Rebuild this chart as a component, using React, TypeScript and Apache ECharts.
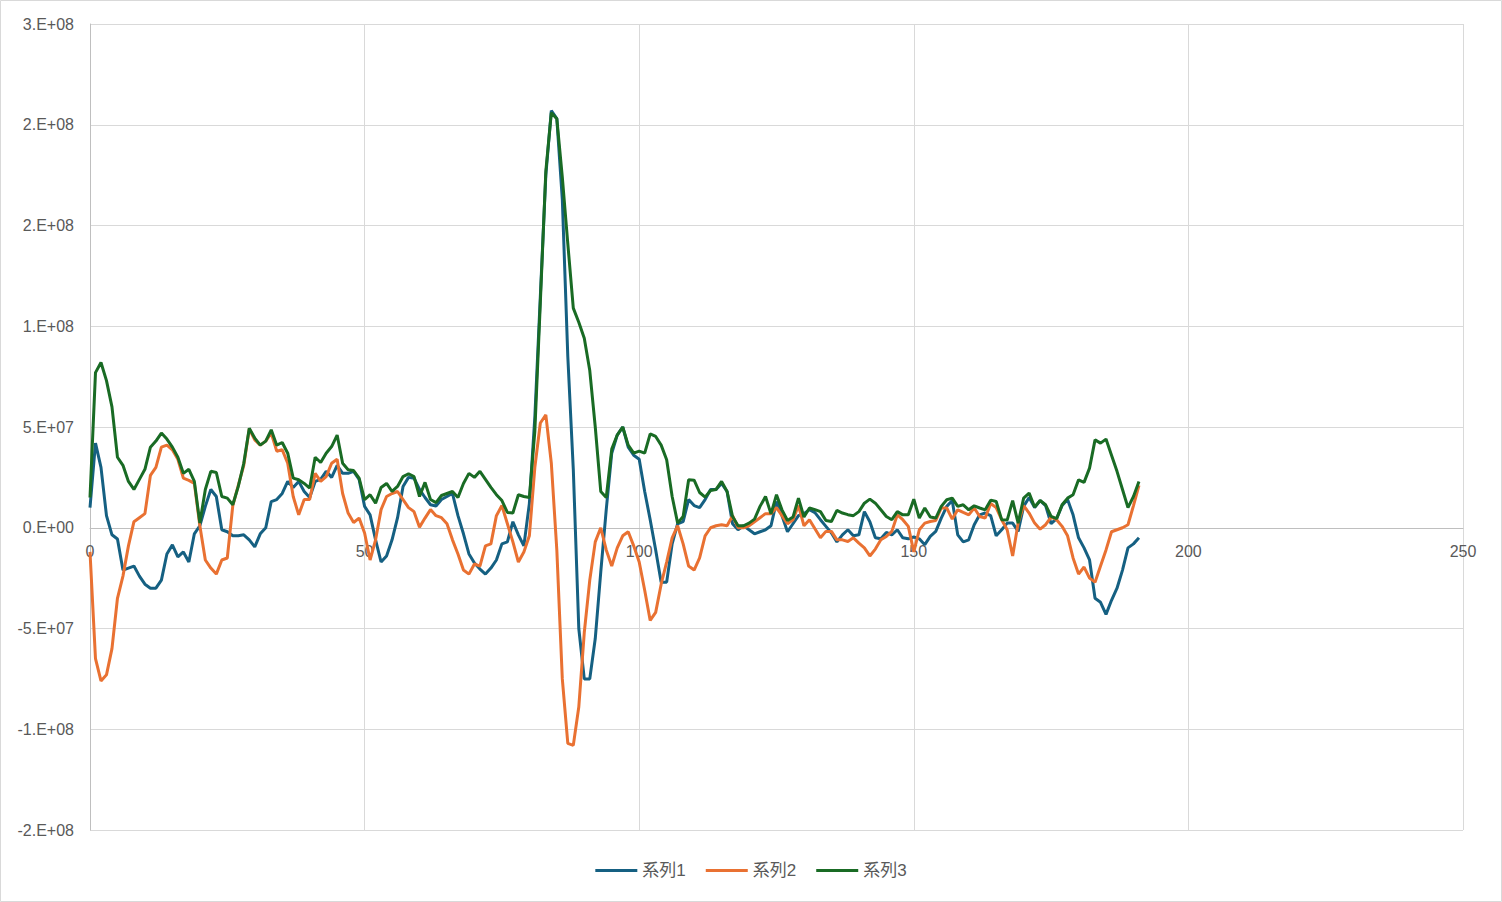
import React, { useEffect, useRef } from "react";
import * as echarts from "echarts";

// values in units of 1e6
const SCALE = 1e6;

const seriesNames = ["系列1", "系列2", "系列3"];

const series1 = [
  10, 42, 30, 6, -3.5, -5.6, -21, -20, -19, -24,
  -28, -30, -30, -26, -13, -8.5, -14.5, -12, -17, -3,
  1, 10.6, 19, 15.5, -1, -2, -4, -4, -3.5, -6,
  -9.5, -3, 0, 13, 14, 17, 23, 20, 23, 18,
  15, 23, 24, 28, 25, 31, 27, 27, 28, 24,
  10.6, 6.4, -6, -17, -14, -6, 5, 20.5, 25, 24.6,
  19, 15, 11.4, 10.8, 14, 15.5, 17, 6, -3, -13,
  -17.5, -20.5, -23, -20, -16, -8, -7, 3, -3.5, -9,
  12, 55, 115, 175, 207, 203, 163, 85, 29, -50,
  -75, -75, -55, -22, 9, 37, 46, 50, 40, 36,
  34, 18, 4, -11, -27, -27, -8, 2, 3, 14,
  11, 10, 14, 19, 19, 22, 18, 2, -1, 1,
  -1, -3, -2, -1, 1, 13, 6, -2, 2, 6,
  7, 9, 7.5, 4, 0.7, -2.6, -7, -3.5, -1, -4,
  -3.5, 8, 3, -5, -5.5, -2.3, -3.5, -1, -5, -5.5,
  -4.6, -5.5, -8.4, -4.3, -1.8, 4.8, 10.6, 13.5, -3.5, -7,
  -6, 1.5, 6.4, 7.3, 6, -4, -1, 2.3, 2.3, -1.8,
  10.6, 15, 10, 13.5, 11, 2, 4.5, 11, 14, 6.4,
  -5, -10, -16, -35, -37, -43, -36, -30, -21, -10,
  -8, -5,
];

const series2 = [
  -12, -65, -76, -73, -60, -35, -24, -9, 3, 5,
  7, 26, 30, 40, 41, 38.7, 34, 24.6, 23.5, 22,
  1, -16, -20, -23, -16, -15, 11, 21, 31, 49,
  43.6, 41, 43, 47, 38, 38.7, 32, 15.5, 6.4, 14,
  14, 27, 23, 25.4, 32, 34, 17, 7.3, 2.6, 4.8,
  -2.6, -16, -6, 9, 15.5, 17, 18, 14, 10, 8,
  0.3, 4.8, 9, 6, 5, 2, -6, -13, -21, -23,
  -18, -19, -9, -8, 6, 11, 2, -7, -17, -12,
  -4, 30, 52, 56, 32, -11, -75, -107, -108, -89,
  -52, -26, -7, 0, -11, -19, -10, -4, -2, -9,
  -17, -31, -46, -42, -28, -17, -5, 1, -8, -19,
  -21, -15, -4, 0, 1, 1.5, 1, 6, 0, 0,
  1, 3, 5, 7, 7, 10, 6, 2, 4, 11,
  1, 4, -0.5, -5, -1.8, -1.8, -6, -6, -6.8, -5,
  -7.6, -10, -14, -10.6, -6, -4.3, -1.8, 6.4, 4, 0.7,
  -12, -1, 2.3, 3.1, 3.6, 9.8, 9.8, 4.3, 8.9, 7.6,
  6.4, 9.8, 5.6, 4.8, 12, 10, 4, -1, -14, 2.3,
  11, 7.3, 2.3, -0.7, 1.5, 5.3, 4, 0.7, -4, -15,
  -23, -19.5, -25, -27, -19, -11, -2, -1, 0, 1.5,
  11, 21,
];

const series3 = [
  15, 77, 82, 73, 60, 35, 31, 23, 19, 24,
  29, 40, 43, 47, 44, 40, 35, 27, 29, 23,
  2.3, 19, 28, 27.4, 15.5, 14.7, 11.4, 20.5, 32, 49.4,
  44.5, 41, 43, 48.6, 41, 42.3, 37, 24.6, 23.8, 22,
  19.7, 35, 32.4, 37, 40.3, 46, 32, 28.8, 28.4, 24.6,
  13.9, 16.4, 12.2, 20, 22, 18, 20.5, 25.4, 26.8, 25.4,
  15.5, 22.5, 14, 12.5, 16, 17, 18, 15, 22, 27,
  25, 28, 24, 20, 16.4, 13.5, 7.6, 7.3, 16.4, 15.5,
  15, 48, 112, 177, 206, 203, 174, 141, 109, 102,
  94, 78, 50, 18, 15, 39, 46, 50, 41, 37,
  38, 37, 46.6, 45.3, 41, 33.7, 15.5, 2.3, 5.6, 23.8,
  23.6, 17.5, 15.2, 18.5, 19, 23, 18, 5.6, 1, 1,
  2.3, 4.3, 10.6, 15.5, 6.9, 16.4, 8.9, 3.6, 5.3, 14.7,
  5.3, 9.8, 9, 8, 3.6, 3.1, 8.6, 7.3, 6.5, 6,
  8, 12.2, 14.2, 12.2, 8.9, 5.6, 4, 8, 6.4, 6.4,
  14.2, 4.8, 9.8, 5.3, 4.8, 10.6, 13.9, 14.7, 10.6, 11.4,
  8.9, 10.9, 9.8, 8.9, 13.7, 13, 4, 3.8, 13.5, 2.3,
  14.7, 17.2, 10.3, 13.5, 11.4, 5.6, 4.5, 11.4, 14.7, 16.4,
  23.8, 22.5, 29.6, 43.6, 42, 44, 36, 28, 19, 10,
  15.5, 23,
];

const yTickValues = [-1.5e8, -1e8, -5e7, 0, 5e7, 1e8, 1.5e8, 2e8, 2.5e8];
const yTickLabels = ["-2.E+08", "-1.E+08", "-5.E+07", "0.E+00", "5.E+07", "1.E+08", "2.E+08", "2.E+08", "3.E+08"];

const colors = ["#156082", "#E97132", "#196B24"];
const FONT = "'Liberation Sans', Arial, 'Noto Sans CJK JP', sans-serif";

export default function App() {
  const ref = useRef<HTMLDivElement>(null);
  useEffect(() => {
    if (!ref.current) return;
    const chart = echarts.init(ref.current, null, { renderer: "svg" });
    const all = [series1, series2, series3];
    const gridTop = 24;
    const gridBottom = 72;
    const plotH = 902 - gridTop - gridBottom;
    const yMin = -1.5e8;
    const yMax = 2.5e8;
    // move the x axis (line + labels) onto the zero line, as in the reference
    const zeroOffset = -(plotH * (0 - yMin)) / (yMax - yMin);
    chart.setOption({
      animation: false,
      backgroundColor: "#ffffff",
      textStyle: { fontFamily: FONT },
      color: colors,
      graphic: [
        {
          type: "rect",
          shape: { x: 0.5, y: 0.5, width: 1501, height: 901 },
          style: { fill: "none", stroke: "#D9D9D9", lineWidth: 1 },
          silent: true,
          z: -1,
        },
      ],
      grid: { left: 90, right: 39, top: gridTop, bottom: gridBottom, containLabel: false, outerBoundsMode: "none" },
      xAxis: {
        type: "value",
        min: 0,
        max: 250,
        interval: 50,
        offset: zeroOffset,
        axisLine: { show: true, onZero: false, lineStyle: { color: "#BFBFBF", width: 1 } },
        axisTick: { show: false },
        axisLabel: { color: "#595959", fontSize: 16, margin: 16, fontFamily: FONT },
        splitLine: { show: true, lineStyle: { color: "#D9D9D9", width: 1 } },
      },
      yAxis: {
        type: "value",
        min: yMin,
        max: yMax,
        interval: 5e7,
        axisLine: { show: true, lineStyle: { color: "#BFBFBF", width: 1 } },
        axisTick: { show: false },
        axisLabel: {
          color: "#595959",
          fontSize: 16,
          margin: 16,
          fontFamily: FONT,
          formatter: (v: number) => {
            const idx = yTickValues.findIndex((t) => Math.abs(t - v) < 1);
            return idx >= 0 ? yTickLabels[idx] : "";
          },
        },
        splitLine: { show: true, lineStyle: { color: "#D9D9D9", width: 1 } },
      },
      legend: {
        show: true,
        left: "center",
        top: 857,
        icon: "rect",
        itemWidth: 42,
        itemHeight: 3,
        itemGap: 20,
        textStyle: { color: "#595959", fontSize: 17, fontFamily: FONT },
        data: seriesNames,
      },
      series: all.map((arr, k) => ({
        name: seriesNames[k],
        type: "line",
        symbol: "none",
        showSymbol: false,
        smooth: false,
        lineStyle: { width: 3, color: colors[k] },
        itemStyle: { color: colors[k] },
        data: arr.map((v, i) => [i, v * SCALE]),
      })),
    });
    return () => chart.dispose();
  }, []);
  return (
    <div
      ref={ref}
      style={{ position: "fixed", left: 0, top: 0, width: 1502, height: 902, background: "#fff" }}
    />
  );
}
